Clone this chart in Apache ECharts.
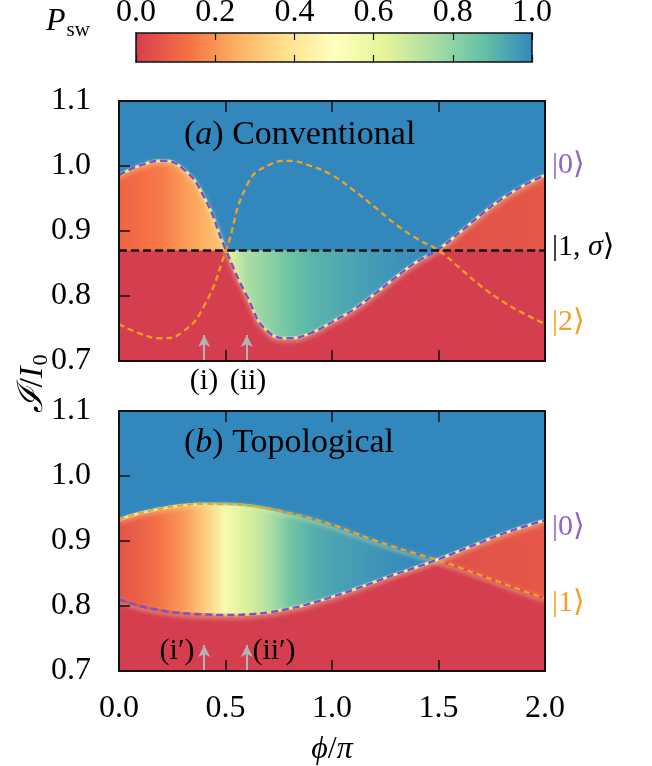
<!DOCTYPE html>
<html>
<head>
<meta charset="UTF-8">
<title>P_sw - conventional vs topological</title>
<style>
  * { margin: 0; padding: 0; }
  body { background: #ffffff; }
  #charts { width: 652px; height: 766px; }
</style>
</head>
<body>
<div id="charts"></div>
<script src="https://cdn.jsdelivr.net/npm/echarts@6/dist/echarts.min.js"></script>
<script>
// phase axis, phi/pi
var phi = [0.0, 0.1, 0.2, 0.3, 0.4, 0.5, 0.6, 0.7, 0.8, 0.9, 1.0, 1.1, 1.2, 1.3, 1.4, 1.5, 1.6, 1.7, 1.8, 1.9, 2.0];

// (a) conventional: |0>, |2> and the flat |1,sigma> level
var convZero = [0.986, 1.001, 1.008, 0.996, 0.952, 0.872, 0.800, 0.745, 0.735, 0.743, 0.760, 0.779, 0.803, 0.829, 0.853, 0.872, 0.898, 0.925, 0.950, 0.970, 0.986];
var convTwo = [0.757, 0.742, 0.735, 0.745, 0.785, 0.868, 0.970, 1.001, 1.008, 1.000, 0.986, 0.963, 0.937, 0.910, 0.888, 0.870, 0.843, 0.815, 0.792, 0.773, 0.757];
var convSigma = 0.87;
// P_sw between the two boundaries, [phi, P]
var convPsw = [[0.0, 0.10], [0.1, 0.125], [0.2, 0.15], [0.3, 0.21], [0.4, 0.26], [0.5, 0.31],
  [0.5, 0.60], [0.6, 0.75], [0.7, 0.80], [0.8, 0.86], [0.9, 0.90], [1.0, 0.92], [1.1, 0.94], [1.2, 0.96], [1.3, 0.975], [1.4, 0.99], [1.5, 1.0],
  [1.5, 0.05], [1.6, 0.05], [1.7, 0.055], [1.8, 0.06], [1.9, 0.065], [2.0, 0.07]];

// (b) topological: |0> and |1>
var topoZero = [0.810, 0.800, 0.793, 0.789, 0.787, 0.786, 0.787, 0.790, 0.796, 0.804, 0.814, 0.825, 0.837, 0.849, 0.860, 0.872, 0.885, 0.898, 0.911, 0.922, 0.932];
var topoOne = [0.933, 0.943, 0.950, 0.955, 0.957, 0.957, 0.955, 0.950, 0.943, 0.935, 0.925, 0.913, 0.901, 0.890, 0.880, 0.870, 0.859, 0.847, 0.835, 0.823, 0.812];
var topoPsw = [[0.0, 0.06], [0.1, 0.09], [0.2, 0.145], [0.3, 0.21], [0.4, 0.32], [0.5, 0.55], [0.6, 0.65], [0.7, 0.73], [0.8, 0.85], [0.9, 0.91],
  [1.0, 0.94], [1.1, 0.955], [1.2, 0.97], [1.3, 0.985], [1.4, 0.995], [1.5, 1.0],
  [1.5, 0.05], [1.6, 0.05], [1.7, 0.055], [1.8, 0.06], [1.9, 0.065], [2.0, 0.07]];

// readout arrows (phi positions) and their tip level
var arrowPhi = [0.4, 0.6];
var arrowTip = 0.74;

var xTicks = [0.0, 0.5, 1.0, 1.5, 2.0];
var yRange = [0.7, 1.1];
var cbarRange = [0, 1];

var spectral = ['#d53e4f', '#f46d43', '#fdae61', '#fee08b', '#ffffbf', '#e6f598', '#abdda4', '#66c2a5', '#3288bd'];
var RED = '#d53e4f';
var BLUE = '#3288bd';
var PURPLE = '#7e52c4';
var ORANGE = '#f5a020';
var serif = 'Liberation Serif, DejaVu Serif, serif';
var PHI_MAX = phi[phi.length - 1];

function hex(c) {
  return [parseInt(c.substr(1, 2), 16), parseInt(c.substr(3, 2), 16), parseInt(c.substr(5, 2), 16)];
}
// value in [0,1] -> spectral colour
function cmap(v) {
  var n = spectral.length - 1;
  var t = Math.max(0, Math.min(1, v)) * n;
  var i = Math.min(Math.floor(t), n - 1);
  var f = t - i;
  var a = hex(spectral[i]), b = hex(spectral[i + 1]);
  return 'rgb(' + [0, 1, 2].map(function (k) { return Math.round(a[k] + (b[k] - a[k]) * f); }).join(',') + ')';
}
function pairs(arr) {
  return phi.map(function (p, i) { return [p, arr[i]]; });
}
function flat(v) {
  return phi.map(function (p) { return v; });
}
// sign test between two sampled curves
function diffAt(a, b, x) {
  for (var i = 0; i < phi.length - 1; i++) {
    if (x <= phi[i + 1]) {
      var f = (x - phi[i]) / (phi[i + 1] - phi[i]);
      return (a[i] - b[i]) * (1 - f) + (a[i + 1] - b[i + 1]) * f;
    }
  }
  return a[a.length - 1] - b[b.length - 1];
}
function crossings(a, b) {
  var xs = [];
  for (var i = 0; i < phi.length - 1; i++) {
    var d0 = a[i] - b[i], d1 = a[i + 1] - b[i + 1];
    if (d0 * d1 < 0) xs.push(phi[i] + (phi[i + 1] - phi[i]) * d0 / (d0 - d1));
    else if (d1 === 0 && i < phi.length - 2) xs.push(phi[i + 1]);
  }
  return xs;
}
// red where curve a is the lower boundary, clear elsewhere
function redMask(a, b) {
  var edges = [phi[0]].concat(crossings(a, b), [PHI_MAX]);
  var stops = [];
  for (var k = 0; k < edges.length - 1; k++) {
    var lower = diffAt(a, b, (edges[k] + edges[k + 1]) / 2) < 0;
    var col = lower ? RED : 'rgba(213,62,79,0)';
    stops.push({ offset: edges[k] / PHI_MAX, color: col }, { offset: edges[k + 1] / PHI_MAX, color: col });
  }
  return new echarts.graphic.LinearGradient(0, 0, 1, 0, stops);
}
function profileFill(prof) {
  return new echarts.graphic.LinearGradient(0, 0, 1, 0, prof.map(function (p) {
    return { offset: p[0] / PHI_MAX, color: cmap(p[1]) };
  }));
}
// soft edge along a boundary: colour half way between the two plateaus
function glowStroke(prof, a, b) {
  return new echarts.graphic.LinearGradient(0, 0, 1, 0, prof.map(function (p, k) {
    var x = p[0];
    if (prof[k + 1] && prof[k + 1][0] === x) x -= 0.01;
    else if (prof[k - 1] && prof[k - 1][0] === x) x += 0.01;
    var upper = diffAt(a, b, x) > 0;
    return { offset: p[0] / PHI_MAX, color: cmap((p[1] + (upper ? 1 : 0)) / 2) };
  }));
}

function area(gi, arr, fill, z) {
  return {
    type: 'line', xAxisIndex: gi * 2, yAxisIndex: gi * 2, data: pairs(arr), smooth: true,
    symbol: 'none', silent: true, z: z, lineStyle: { width: 0 },
    areaStyle: { color: fill, opacity: 1, origin: 'start' }
  };
}
function curve(gi, arr, style, z) {
  return {
    type: 'line', xAxisIndex: gi * 2, yAxisIndex: gi * 2, data: pairs(arr), smooth: true,
    symbol: 'none', silent: true, z: z, lineStyle: style
  };
}
function glow(gi, arr, prof, other) {
  return curve(gi, arr, {
    color: glowStroke(prof, arr, other), width: 3, opacity: 0.8,
    shadowBlur: 4, shadowOffsetY: 2, shadowColor: 'rgba(236,240,160,0.7)'
  }, 2);
}
function arrows(gi) {
  return {
    type: 'line', xAxisIndex: gi * 2, yAxisIndex: gi * 2, data: [], silent: true, z: 6,
    markLine: {
      silent: true, symbol: ['none', 'arrow'], symbolSize: [9, 12], animation: false,
      label: { show: false },
      lineStyle: { color: '#b3b3b3', width: 2, type: 'solid' },
      data: arrowPhi.map(function (p) { return [{ coord: [p, yRange[0]] }, { coord: [p, arrowTip] }]; })
    }
  };
}

// onZero off so the top / right axes stay on the frame
var frame = { show: true, onZero: false, lineStyle: { color: '#111', width: 2 } };
var tickIn = { show: true, inside: true, length: 11, lineStyle: { color: '#111', width: 1.5 } };
function panelAxes(gi, showX) {
  var lbl = { fontFamily: serif, fontSize: 32, color: '#000' };
  return {
    x: [
      { gridIndex: gi, type: 'value', min: xTicks[0], max: xTicks[xTicks.length - 1], interval: 0.5, position: 'bottom', z: 8,
        axisLine: frame, splitLine: { show: false }, axisTick: tickIn,
        axisLabel: Object.assign({ show: showX, margin: 22, formatter: function (v) { return v.toFixed(1); } }, lbl) },
      { gridIndex: gi, type: 'value', min: xTicks[0], max: xTicks[xTicks.length - 1], interval: 0.5, position: 'top', z: 8,
        axisLine: frame, splitLine: { show: false }, axisTick: tickIn, axisLabel: { show: false } }
    ],
    y: [
      { gridIndex: gi, type: 'value', min: yRange[0], max: yRange[1], interval: 0.1, position: 'left', z: 8,
        axisLine: frame, splitLine: { show: false }, axisTick: tickIn,
        axisLabel: Object.assign({ margin: 28, formatter: function (v) { return v.toFixed(1); } }, lbl) },
      { gridIndex: gi, type: 'value', min: yRange[0], max: yRange[1], interval: 0.1, position: 'right', z: 8,
        axisLine: frame, splitLine: { show: false }, axisTick: { show: false }, axisLabel: { show: false } }
    ]
  };
}

var axA = panelAxes(0, false), axB = panelAxes(1, true);
var cbLine = { show: true, onZero: false, lineStyle: { color: '#111', width: 1.5 } };
var cbTick = { show: true, inside: true, length: 7, lineStyle: { color: '#111', width: 1.2 } };
var cbarX = [
  { gridIndex: 2, type: 'value', min: cbarRange[0], max: cbarRange[1], interval: 0.2, position: 'top', z: 8,
    axisLine: cbLine, splitLine: { show: false }, axisTick: cbTick,
    axisLabel: { show: true, margin: 4, fontFamily: serif, fontSize: 32, color: '#000', formatter: function (v) { return v.toFixed(1); } } },
  { gridIndex: 2, type: 'value', min: cbarRange[0], max: cbarRange[1], interval: 0.2, position: 'bottom', z: 8,
    axisLine: cbLine, splitLine: { show: false }, axisTick: cbTick, axisLabel: { show: false } }
];
var cbarY = [
  { gridIndex: 2, type: 'value', min: 0, max: 1, position: 'left', z: 8,
    axisLine: cbLine, splitLine: { show: false }, axisTick: { show: false }, axisLabel: { show: false } },
  { gridIndex: 2, type: 'value', min: 0, max: 1, position: 'right', z: 8,
    axisLine: cbLine, splitLine: { show: false }, axisTick: { show: false }, axisLabel: { show: false } }
];

var dashPurple = { color: PURPLE, width: 2.5, type: [7, 4] };
var dashOrange = { color: ORANGE, width: 2.3, type: [6, 4] };
var sigmaLine = flat(convSigma);

var series = [
  // (a)
  area(0, convZero, profileFill(convPsw), 1),
  area(0, sigmaLine, profileFill(convPsw), 1),
  area(0, convZero, redMask(convZero, sigmaLine), 1),
  area(0, sigmaLine, redMask(sigmaLine, convZero), 1),
  glow(0, convZero, convPsw, sigmaLine),
  curve(0, convTwo, dashOrange, 3),
  curve(0, convZero, dashPurple, 3),
  curve(0, sigmaLine, { color: '#111', width: 2.5, type: [8, 4] }, 4),
  arrows(0),
  // (b)
  area(1, topoOne, profileFill(topoPsw), 1),
  area(1, topoZero, profileFill(topoPsw), 1),
  area(1, topoZero, redMask(topoZero, topoOne), 1),
  area(1, topoOne, redMask(topoOne, topoZero), 1),
  glow(1, topoOne, topoPsw, topoZero),
  glow(1, topoZero, topoPsw, topoOne),
  curve(1, topoOne, dashOrange, 3),
  curve(1, topoZero, dashPurple, 3),
  arrows(1),
  // colour bar
  {
    type: 'line', xAxisIndex: 4, yAxisIndex: 4, data: [[cbarRange[0], 1], [cbarRange[1], 1]], symbol: 'none', silent: true,
    lineStyle: { width: 0 },
    areaStyle: { opacity: 1, origin: 'start', color: new echarts.graphic.LinearGradient(0, 0, 1, 0, spectral.map(function (c, i) {
      return { offset: i / (spectral.length - 1), color: c };
    })) }
  }
];

function txt(x, y, text, rich, align) {
  return {
    type: 'text', x: x, y: y, z: 100, silent: true,
    style: { text: text, rich: rich, align: align || 'left', verticalAlign: 'middle', fill: '#000', fontFamily: serif, fontSize: 32 }
  };
}
function r(size, italic, color, extra) {
  return Object.assign({ fontFamily: serif, fontSize: size, fontStyle: italic ? 'italic' : 'normal', fill: color || '#000' }, extra || {});
}
var sub = { verticalAlign: 'bottom', padding: [16, 0, 0, 1] };

var graphic = [
  txt(46, 22, '{p|P}{s|sw}', { p: r(32, true), s: r(21, false, '#000', sub) }),
  Object.assign(txt(33, 384, '{c|ℐ}{n|/}{i|I}{s|0}', { c: r(35, true), n: r(34, false), i: r(34, true), s: r(22, false, '#000', sub) }, 'center'),
    { rotation: Math.PI / 2 }),
  txt(332, 750, '{i|ϕ}{n|/}{i|π}', { i: r(32, true), n: r(32, false) }, 'center'),
  txt(184, 135, '{n|(}{i|a}{n|) Conventional}', { n: r(34, false), i: r(34, true) }),
  txt(184, 443, '{n|(}{i|b}{n|) Topological}', { n: r(34, false), i: r(34, true) }),
  txt(552, 165, '{n|\u007c0\u27e9}', { n: r(30, false, '#8f63c9') }),
  txt(552, 247, '{n|\u007c1, }{i|σ}{n|\u27e9}', { n: r(30, false), i: r(30, true) }),
  txt(552, 322, '{n|\u007c2\u27e9}', { n: r(30, false, ORANGE) }),
  txt(552, 527, '{n|\u007c0\u27e9}', { n: r(30, false, '#8f63c9') }),
  txt(552, 603, '{n|\u007c1\u27e9}', { n: r(30, false, ORANGE) }),
  txt(204, 381, '{n|(i)}', { n: r(30, false) }, 'center'),
  txt(248, 381, '{n|(ii)}', { n: r(30, false) }, 'center'),
  txt(177, 651, '{n|(i\u2032)}', { n: r(30, false) }, 'center'),
  txt(274, 651, '{n|(ii\u2032)}', { n: r(30, false) }, 'center')
];

var mycharts = echarts.init(document.getElementById('charts'));
mycharts.setOption({
  animation: false,
  backgroundColor: '#ffffff',
  grid: [
    { left: 119, right: 107, top: 101, height: 260, show: true, backgroundColor: BLUE, borderWidth: 0, outerBoundsMode: 'none', containLabel: false },
    { left: 119, right: 107, top: 411, height: 260, show: true, backgroundColor: BLUE, borderWidth: 0, outerBoundsMode: 'none', containLabel: false },
    { left: 136, width: 396, top: 33, height: 29, show: false, outerBoundsMode: 'none', containLabel: false }
  ],
  xAxis: axA.x.concat(axB.x, cbarX),
  yAxis: axA.y.concat(axB.y, cbarY),
  series: series,
  graphic: graphic
});
</script>
</body>
</html>
